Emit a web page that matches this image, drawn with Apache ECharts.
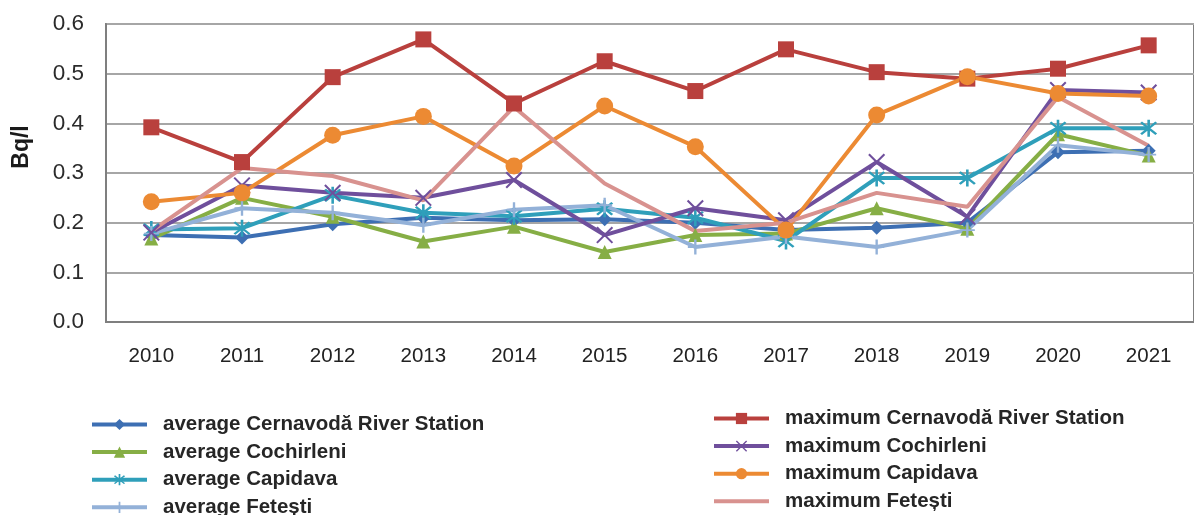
<!DOCTYPE html>
<html>
<head>
<meta charset="utf-8">
<script src="https://cdn.jsdelivr.net/npm/echarts@6/dist/echarts.min.js"></script>
<style>
html,body{margin:0;padding:0;background:#fff;}
#chart{width:1194px;height:515px;}
</style>
</head>
<body>
<div id="chart"></div>
<script>
var years = ['2010','2011','2012','2013','2014','2015','2016','2017','2018','2019','2020','2021'];
var yTicks = [0, 0.1, 0.2, 0.3, 0.4, 0.5, 0.6];

var avgCernavoda = [0.175, 0.170, 0.197, 0.210, 0.205, 0.207, 0.200, 0.185, 0.190, 0.200, 0.342, 0.345];
var avgCochirleni = [0.168, 0.250, 0.212, 0.162, 0.192, 0.141, 0.175, 0.178, 0.229, 0.188, 0.378, 0.335];
var avgCapidava = [0.186, 0.189, 0.255, 0.220, 0.213, 0.228, 0.210, 0.163, 0.290, 0.290, 0.390, 0.390];
var avgFetesti = [0.178, 0.229, 0.220, 0.195, 0.226, 0.235, 0.151, 0.172, 0.151, 0.185, 0.356, 0.337];
var maxCernavoda = [0.392, 0.322, 0.493, 0.569, 0.440, 0.525, 0.465, 0.549, 0.503, 0.490, 0.510, 0.557];
var maxCochirleni = [0.180, 0.275, 0.260, 0.250, 0.286, 0.175, 0.229, 0.205, 0.322, 0.212, 0.467, 0.462];
var maxCapidava = [0.242, 0.260, 0.376, 0.414, 0.314, 0.435, 0.353, 0.185, 0.417, 0.494, 0.460, 0.455];
var maxFetesti = [0.183, 0.310, 0.294, 0.245, 0.433, 0.279, 0.183, 0.200, 0.260, 0.232, 0.453, 0.355];

var names = [
  'average Cernavodă River Station', 'average Cochirleni', 'average Capidava', 'average Fetești',
  'maximum Cernavodă River Station', 'maximum Cochirleni', 'maximum Capidava', 'maximum Fetești'
];

var asteriskPath = 'path://M-1.2,-10 L1.2,-10 L1.2,10 L-1.2,10 Z M-7.9,-6.2 L-6.2,-7.9 L7.9,6.2 L6.2,7.9 Z M6.2,-7.9 L7.9,-6.2 L-6.2,7.9 L-7.9,6.2 Z';
var crossPath = 'path://M-8.2,-6.8 L-6.8,-8.2 L8.2,6.8 L6.8,8.2 Z M6.8,-8.2 L8.2,-6.8 L-6.8,8.2 L-8.2,6.8 Z';
var plusPath = 'path://M-1.1,-9 L1.1,-9 L1.1,9 L-1.1,9 Z M-7,-1.1 L7,-1.1 L7,1.1 L-7,1.1 Z';

function mk(name, data, color, symbol, size) {
  return {
    name: name,
    type: 'line',
    data: data,
    symbol: symbol,
    symbolSize: size,
    showSymbol: symbol !== 'none',
    lineStyle: {color: color, width: 4},
    itemStyle: {color: color, borderWidth: 0},
    emphasis: {disabled: true},
    animation: false
  };
}

var legendText = {fontFamily: 'Liberation Sans', fontWeight: 'bold', fontSize: 20.5, color: '#262626', lineHeight: 21, padding: [0, 0, 0, 11]};
var legends = names.map(function (n, i) {
  var col = i < 4 ? 0 : 1;
  var row = i % 4;
  var lg = {
    data: [n],
    left: col === 0 ? 90 : 712,
    top: (col === 0 ? 414 : 408) + row * 27.6,
    padding: 0,
    itemWidth: 55, itemHeight: 14,
    lineStyle: {width: 4},
    textStyle: legendText,
    selectedMode: false
  };
  if (i === 7) { lg.itemStyle = {opacity: 0}; }
  return lg;
});

var chart = echarts.init(document.getElementById('chart'), null, {renderer: 'canvas'});
chart.setOption({
  backgroundColor: '#ffffff',
  animation: false,
  grid: {left: 106, right: -6, top: 24, bottom: 193, show: true, borderColor: '#7f7f7f', borderWidth: 2, backgroundColor: 'transparent'},
  legend: legends,
  xAxis: {
    type: 'category',
    data: years,
    boundaryGap: true,
    axisTick: {show: false},
    axisLine: {show: true, lineStyle: {color: '#7f7f7f', width: 2}},
    axisLabel: {fontFamily: 'Liberation Sans', fontSize: 20.5, color: '#222222', margin: 24}
  },
  yAxis: {
    type: 'value',
    min: 0, max: 0.6, interval: 0.1,
    name: 'Bq/l',
    nameLocation: 'middle',
    nameRotate: 90,
    nameGap: 73,
    nameTextStyle: {fontFamily: 'Liberation Sans', fontWeight: 'bold', fontSize: 23, color: '#1a1a1a', padding: [0, 0, 0, 52]},
    axisLine: {show: true, lineStyle: {color: '#7f7f7f', width: 2}},
    axisTick: {show: false},
    splitLine: {show: true, lineStyle: {color: '#a6a6a6', width: 2}},
    axisLabel: {fontFamily: 'Liberation Sans', fontSize: 22.5, color: '#2b2b2b', margin: 22,
      formatter: function (v) { return v.toFixed(1); }}
  },
  series: [
    mk(names[0], avgCernavoda, '#3d6fb3', 'diamond', 14),
    mk(names[1], avgCochirleni, '#86ae45', 'triangle', 14),
    mk(names[2], avgCapidava, '#2f9fba', asteriskPath, 17),
    mk(names[3], avgFetesti, '#93b1d8', plusPath, 15),
    mk(names[4], maxCernavoda, '#b9403d', 'rect', 16),
    mk(names[5], maxCochirleni, '#6f4f9c', crossPath, 17),
    mk(names[6], maxCapidava, '#ec8a33', 'circle', 17),
    mk(names[7], maxFetesti, '#d8928f', 'none', 0)
  ]
});
</script>
</body>
</html>
